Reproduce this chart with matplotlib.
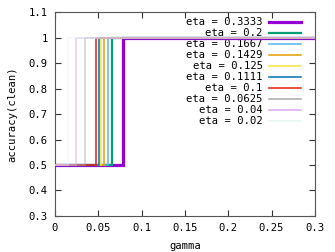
"""accuracy(clean) vs gamma step curves, gnuplot-like look."""
import matplotlib
matplotlib.use("Agg")
import matplotlib.pyplot as plt

ETA_LABELS = ["0.3333", "0.2", "0.1667", "0.1429", "0.125", "0.1111", "0.1", "0.0625", "0.04", "0.02"]
# gamma where accuracy jumps from 0.5 to 1
STEP_GAMMA = [0.0785, 0.066, 0.0615, 0.057, 0.0535, 0.0505, 0.047, 0.035, 0.0245, 0.0155]
ACC_LOW = 0.5
ACC_HIGH = 1.0
GAMMA_MIN, GAMMA_MAX = 0.0, 0.3

COLORS = ["#9400d3", "#009e73", "#56b4e9", "#e69f00", "#f0e442", "#0072b2",
          "#e51e10", "#aaaaaa", "#d9a9f0", "#e4f6f2"]
WIDTHS = [2.3, 1.6, 1.1, 1.1, 1.1, 1.1, 1.1, 1.1, 1.1, 1.1]
ALPHAS = [1, 1, 1, 1, 1, 1, 1, 0.6, 0.6, 0.5]

FONT = "DejaVu Sans Mono"
FS = 7.6

plt.rcParams["font.family"] = FONT
fig = plt.figure(figsize=(3.35, 2.52), dpi=100)
ax = fig.add_axes([0.164, 0.143, 0.776, 0.809])

for lab, g, c, lw, a in zip(ETA_LABELS, STEP_GAMMA, COLORS, WIDTHS, ALPHAS):
    xs = [GAMMA_MIN, g, g, GAMMA_MAX]
    ys = [ACC_LOW, ACC_LOW, ACC_HIGH, ACC_HIGH]
    ax.plot(xs, ys, color=c, lw=lw, alpha=a, solid_joinstyle="miter", zorder=3)

# gnuplot style key: right-justified text, sample to the right
y0, dy = 0.952, 0.0539
for i, (lab, c, lw) in enumerate(zip(ETA_LABELS, COLORS, WIDTHS)):
    y = y0 - i * dy
    ax.text(0.799, y, f"eta = {lab}", transform=ax.transAxes, ha="right", va="center",
            fontsize=FS, zorder=2)
    ax.plot([0.823, 0.946], [y, y], transform=ax.transAxes, color=c, lw=lw, zorder=2)

ax.set_xlim(GAMMA_MIN, GAMMA_MAX)
ax.set_ylim(0.3, 1.1)
ax.set_xticks([0, 0.05, 0.1, 0.15, 0.2, 0.25, 0.3])
ax.set_xticklabels(["0", "0.05", "0.1", "0.15", "0.2", "0.25", "0.3"])
ax.set_yticks([0.3, 0.4, 0.5, 0.6, 0.7, 0.8, 0.9, 1.0, 1.1])
ax.set_yticklabels(["0.3", "0.4", "0.5", "0.6", "0.7", "0.8", "0.9", "1", "1.1"])
ax.tick_params(direction="in", length=4, width=0.8, top=True, right=True,
               labelsize=FS, pad=5, colors="#333333", labelcolor="black")
for sp in ax.spines.values():
    sp.set_color("#555555")
    sp.set_linewidth(0.8)
ax.set_xlabel("gamma", fontsize=FS, labelpad=6)
ax.set_ylabel("accuracy(clean)", fontsize=FS, labelpad=8)

fig.savefig("out.png", dpi=100)
